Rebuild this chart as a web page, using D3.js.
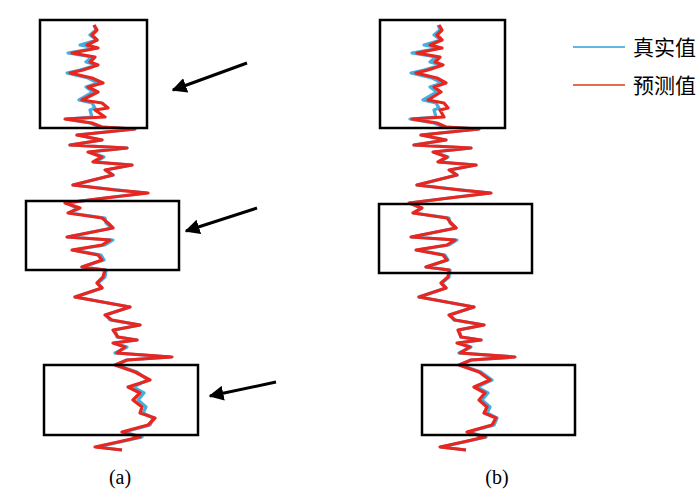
<!DOCTYPE html>
<html>
<head>
<meta charset="utf-8">
<script src="https://cdn.jsdelivr.net/npm/d3@7"></script>
<style>
  body { margin: 0; background: #fff; }
  svg { display: block; }
</style>
</head>
<body>
<div class="chart"></div>
<script>
// Configuration constants
const width = 700;
const height = 491;
const trueColor = '#45aee0';
const predColor = '#e8261f';

// Depth samples (top to bottom)
const depth = [25, 30, 35, 40, 45, 48, 53, 57, 62, 65, 70, 73, 78, 83, 87, 92, 100, 103, 108, 110,
  117, 119, 123, 127, 129, 135, 140, 145, 148, 152, 157, 162, 165, 170, 175, 185, 190, 193, 198, 203,
  208, 213, 218, 223, 228, 237, 240, 245, 250, 255, 260, 267, 270, 277, 283, 288, 297, 307, 315, 320,
  325, 330, 337, 340, 343, 347, 353, 357, 360, 365, 372, 380, 387, 393, 400, 407, 413, 418, 425, 432,
  437, 442, 447, 450];

// 真实值 (measured)
const trueVals = [34, 36, 30, 37, 20, 36, 8, 32, 26, 37, 20, 7, 28, 38, 26, 33, 19, 32, 35, 30,
  32, 6, 30, 40, 75, 17, 42, 10, 67, 30, 44, 35, 72, 46, 53, 13, 58, 86, 45, 6,
  17, 10, 45, 46, 52, 8, 53, 45, 13, 41, 44, 22, 46, 45, 38, 42, 15, 70, 46, 50,
  80, 55, 57, 77, 54, 67, 55, 110, 67, 56, 77, 88, 73, 84, 78, 86, 83, 93, 90, 64,
  82, 60, 37, 62];

// 预测值, panel (a)
const predA = [34, 37, 32, 37, 27, 38, 12, 35, 30, 38, 23, 10, 32, 43, 28, 38, 22, 42, 48, 35,
  45, 5, 32, 42, 75, 17, 42, 10, 67, 28, 42, 33, 72, 45, 53, 13, 55, 88, 45, 5,
  20, 8, 42, 48, 53, 7, 50, 42, 12, 38, 42, 22, 45, 43, 37, 42, 15, 70, 45, 52,
  80, 53, 58, 77, 53, 65, 57, 112, 67, 55, 75, 90, 68, 80, 73, 82, 80, 95, 88, 62,
  80, 58, 35, 62];

// 预测值, panel (b)
const predB = [35, 38, 33, 38, 26, 38, 13, 36, 31, 39, 24, 12, 33, 42, 30, 37, 24, 40, 44, 36,
  40, 8, 33, 42, 75, 17, 42, 10, 67, 29, 43, 34, 72, 45, 53, 13, 56, 87, 45, 5,
  18, 9, 43, 47, 52, 7, 51, 43, 12, 39, 43, 22, 45, 44, 37, 42, 15, 70, 45, 51,
  80, 54, 57, 77, 53, 66, 56, 111, 67, 55, 75, 86, 70, 81, 75, 83, 80, 92, 88, 63,
  81, 59, 36, 62];

// Highlight boxes [value0, value1, depth0, depth1]
const boxesA = [[-20, 87, 20, 128], [-34, 119, 201, 270], [-16, 138, 365, 435]];
const boxesB = [[-24, 101, 20, 128], [-25, 128, 204, 273], [18, 171, 365, 435]];
// Arrows in panel (a): [tailValue, tailDepth, headValue, headDepth]
const arrowsA = [[187, 63, 113, 90], [197, 208, 126, 231], [216, 382, 150, 396]];

const panelLabels = ['(a)', '(b)'];
const legendNames = ['真实值', '预测值'];

const svg = d3.select('.chart')
  .append('svg')
  .attr('width', width)
  .attr('height', height);

svg.append('defs').append('marker')
  .attr('id', 'arrow')
  .attr('viewBox', '0 0 10 10')
  .attr('refX', 9)
  .attr('refY', 5)
  .attr('markerWidth', 5)
  .attr('markerHeight', 5)
  .attr('orient', 'auto')
  .append('path')
  .attr('d', 'M0,0 L10,5 L0,10 Z')
  .attr('fill', '#000');

const y = d3.scaleLinear().domain([25, 450]).range([25, 450]);

function drawPanel(x, pred, boxes, label, labelX) {
  const g = svg.append('g');
  const line = vals => d3.line()
    .x((d, i) => x(vals[i]))
    .y(d => y(d))(depth);

  g.append('path')
    .attr('d', line(trueVals))
    .attr('fill', 'none')
    .attr('stroke', trueColor)
    .attr('stroke-width', 3.2)
    .attr('stroke-linejoin', 'round');

  g.append('path')
    .attr('d', line(pred))
    .attr('fill', 'none')
    .attr('stroke', predColor)
    .attr('stroke-width', 3.2)
    .attr('stroke-linejoin', 'round');

  g.selectAll('.box')
    .data(boxes)
    .enter()
    .append('rect')
    .attr('x', d => x(d[0]))
    .attr('y', d => y(d[2]))
    .attr('width', d => x(d[1]) - x(d[0]))
    .attr('height', d => y(d[3]) - y(d[2]))
    .attr('fill', 'none')
    .attr('stroke', '#000')
    .attr('stroke-width', 2.5);

  g.append('text')
    .attr('x', x(labelX))
    .attr('y', 484)
    .attr('text-anchor', 'middle')
    .attr('font-family', '"Liberation Serif", "Times New Roman", serif')
    .attr('font-size', 20)
    .text(label);
}

const xA = d3.scaleLinear().domain([0, 120]).range([60, 180]);
const xB = d3.scaleLinear().domain([0, 120]).range([404, 524]);

drawPanel(xA, predA, boxesA, panelLabels[0], 60);
drawPanel(xB, predB, boxesB, panelLabels[1], 93);

// Arrows
svg.selectAll('.arrow')
  .data(arrowsA)
  .enter()
  .append('line')
  .attr('x1', d => xA(d[0]))
  .attr('y1', d => y(d[1]))
  .attr('x2', d => xA(d[2]))
  .attr('y2', d => y(d[3]))
  .attr('stroke', '#000')
  .attr('stroke-width', 3)
  .attr('marker-end', 'url(#arrow)');

// Legend
const legend = svg.append('g').attr('transform', 'translate(573, 47)');
const legendColors = ['#63b6e0', '#e8694c'];
legendNames.forEach((name, i) => {
  legend.append('line')
    .attr('x1', 0)
    .attr('x2', 52)
    .attr('y1', i * 38)
    .attr('y2', i * 38)
    .attr('stroke', legendColors[i])
    .attr('stroke-width', 2);
  legend.append('text')
    .attr('x', 60)
    .attr('y', i * 38 + 8)
    .attr('font-family', '"Noto Sans CJK SC", sans-serif')
    .attr('font-size', 21)
    .text(name);
});
</script>
</body>
</html>
